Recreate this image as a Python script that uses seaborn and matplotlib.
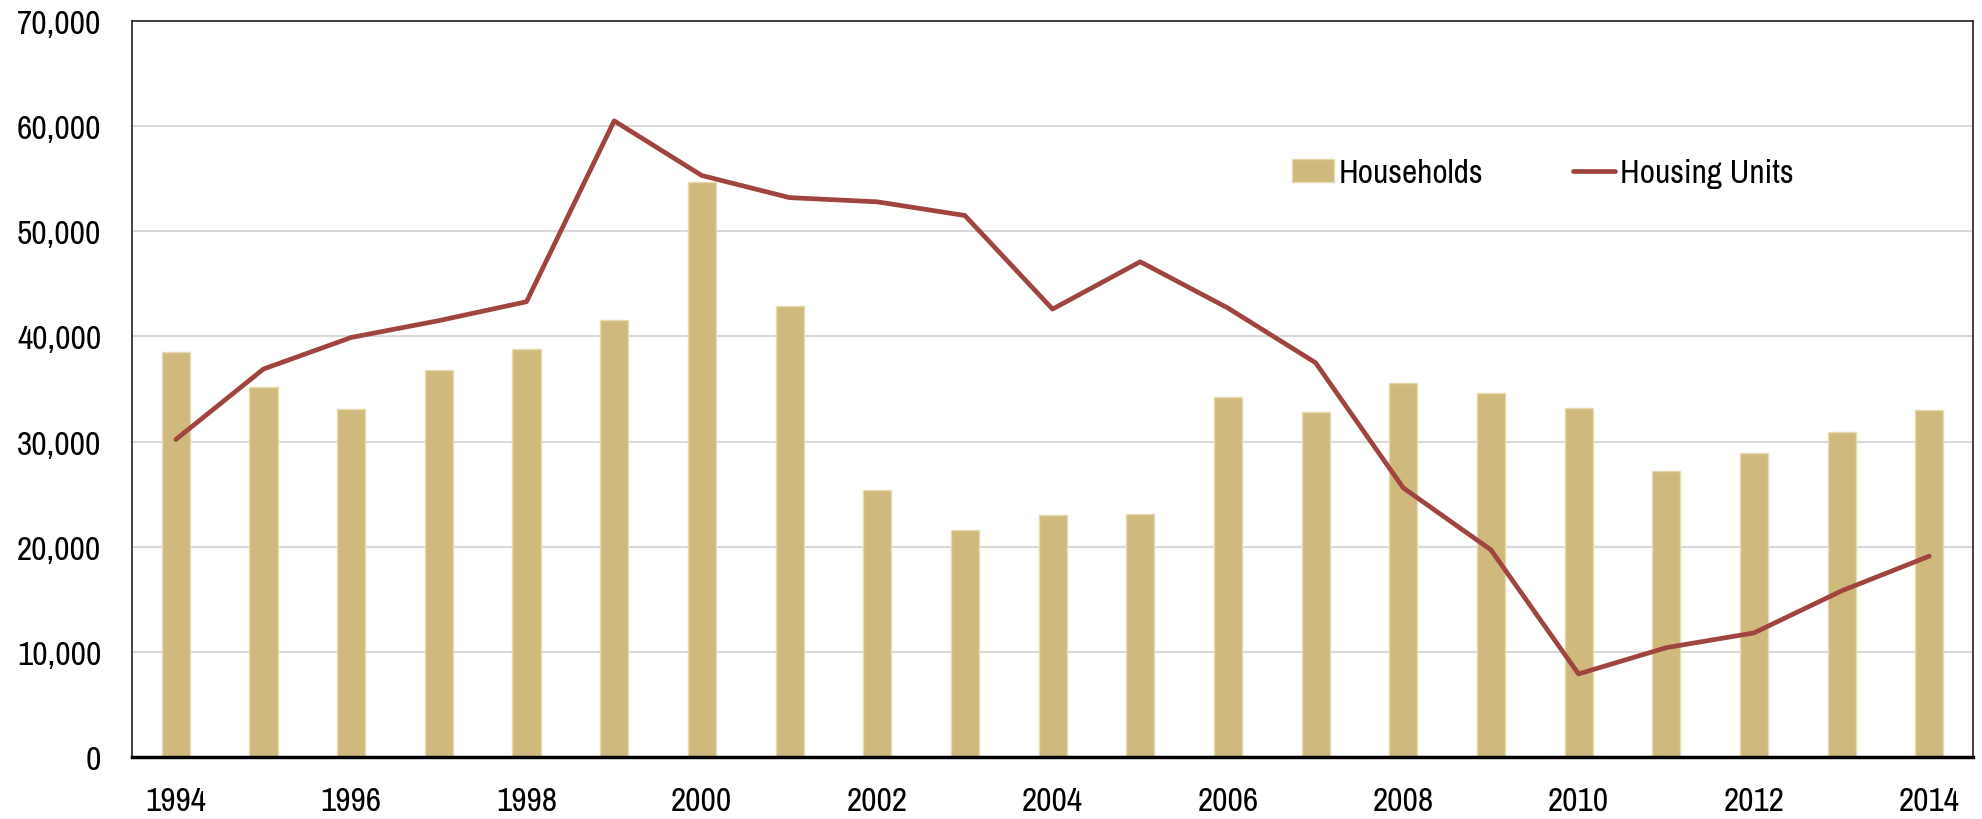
import matplotlib
matplotlib.use("Agg")
import matplotlib.pyplot as plt
import pandas as pd
import seaborn as sns

# ── Data ──────────────────────────────────────────────────────────────
years = [str(y) for y in range(1994, 2015)]
households = [38500, 35200, 33100, 36800, 38850, 41600, 54700, 42900, 25400, 21600,
              23000, 23100, 34200, 32800, 35600, 34600, 33200, 27200, 28900, 30900, 33000]
housing_units = [30200, 36900, 39900, 41500, 43300, 60500, 55300, 53200, 52800, 51500,
                 42600, 47100, 42700, 37500, 25600, 19700, 7900, 10400, 11800, 15800, 19100]
tick_labels = [y if int(y) % 2 == 0 else "" for y in years]

df = pd.DataFrame({"year": years, "households": households, "units": housing_units})

sns.set_theme(style="white")
plt.rcParams["font.family"] = ["Archivo Narrow", "DejaVu Sans"]
plt.rcParams["text.color"] = "black"

fig, ax = plt.subplots(figsize=(19.82, 8.2), dpi=100)
fig.subplots_adjust(left=0.0666, right=0.9955, top=0.9732, bottom=0.0756)

sns.barplot(data=df, x="year", y="households", color="#CFB97C", saturation=1,
            width=0.32, edgecolor="#E6DAB0", linewidth=1, label="Households", ax=ax)
sns.lineplot(data=df, x="year", y="units", color="#A0443F", linewidth=3.4,
             label="Housing Units", ax=ax, sort=False)

ax.set_ylim(0, 70000)
ax.set_xlim(-0.5, len(years) - 0.5)
ax.set_yticks(range(0, 70001, 10000))
ax.set_yticklabels([f"{v:,}" for v in range(0, 70001, 10000)], fontsize=24, fontweight="medium")
ax.set_xticks(range(len(years)))
ax.set_xticklabels(tick_labels, fontsize=24, fontweight="medium")
ax.tick_params(axis="both", length=0, colors="black")
ax.tick_params(axis="y", pad=22)
ax.tick_params(axis="x", pad=21)
ax.set_xlabel("")
ax.set_ylabel("")

ax.yaxis.grid(True, color="#D9D9D9", linewidth=1.5)
ax.set_axisbelow(True)

for side in ["top", "left", "right"]:
    ax.spines[side].set_color("#222222")
    ax.spines[side].set_linewidth(1.2)
ax.spines["bottom"].set_color("black")
ax.spines["bottom"].set_linewidth(2.5)

handles, labels = ax.get_legend_handles_labels()
order = [labels.index("Households"), labels.index("Housing Units")]
ax.legend([handles[i] for i in order], [labels[i] for i in order],
          loc="center left", bbox_to_anchor=(0.63, 0.793), ncol=2, frameon=False,
          prop={"size": 24, "weight": "medium"}, handlelength=1.25, handletextpad=0.15,
          columnspacing=2.7, borderaxespad=0, borderpad=0, labelcolor="black")

plt.savefig("out.png", dpi=100)
plt.close()
